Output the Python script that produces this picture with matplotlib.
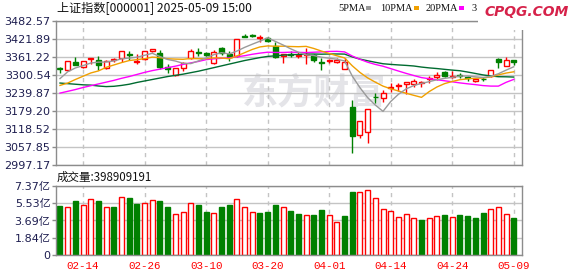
import matplotlib
matplotlib.use("Agg")
import matplotlib.pyplot as plt
from matplotlib.patches import Rectangle
import numpy as np

# ---------------- data ----------------
dates = ["02-11","02-12","02-13","02-14","02-17","02-18","02-19","02-20","02-21","02-24",
         "02-25","02-26","02-27","02-28","03-03","03-04","03-05","03-06","03-07","03-10",
         "03-11","03-12","03-13","03-14","03-17","03-18","03-19","03-20","03-21","03-24",
         "03-25","03-26","03-27","03-28","03-31","04-01","04-02","04-03","04-07","04-08",
         "04-09","04-10","04-11","04-14","04-15","04-16","04-17","04-18","04-21","04-22",
         "04-23","04-24","04-25","04-28","04-29","04-30","05-06","05-07","05-08","05-09"]

opens = [3326,3317,3344,3328,3355,3352,3324,3353,3360,3372,
         3346,3355,3381,3374,3329,3301,3326,3357,3378,3375,
         3341,3391,3373,3364,3434,3436,3425,3425,3400,3366,
         3372,3367,3369,3368,3346,3348,3346,3323,3192,3097,
         3110,3228,3222,3256,3263,3270,3270,3275,3287,3293,
         3310,3294,3301,3293,3282,3289,3297,3355,3333,3352]
highs = [3327,3350,3361,3350,3358,3366,3353,3360,3382,3383,
         3371,3383,3390,3385,3337,3325,3346,3389,3393,3380,
         3384,3395,3382,3423,3438,3440,3436,3430,3414,3371,
         3381,3378,3394,3371,3358,3356,3357,3357,3216,3146,
         3185,3239,3250,3273,3273,3279,3287,3282,3299,3310,
         3316,3316,3307,3299,3290,3294,3317,3358,3363,3353]
lows = [3307,3315,3334,3324,3337,3318,3321,3344,3346,3353,
        3338,3353,3379,3323,3307,3298,3316,3355,3365,3364,
        3338,3369,3349,3362,3428,3428,3414,3413,3357,3343,
        3363,3360,3337,3345,3318,3342,3343,3320,3039,3087,
        3070,3205,3211,3245,3247,3237,3259,3261,3273,3283,
        3294,3290,3290,3281,3278,3282,3294,3326,3331,3335]
closes = [3320,3348,3336,3347,3357,3335,3350,3355,3382,3370,
          3350,3382,3388,3328,3320,3324,3343,3383,3374,3369,
          3380,3377,3361,3423,3431,3434,3428,3417,3363,3371,
          3369,3370,3373,3352,3342,3353,3352,3345,3096,3146,
          3185,3226,3239,3262,3268,3276,3282,3277,3290,3301,
          3299,3299,3299,3291,3287,3287,3317,3344,3352,3346]

ma5 = [3289,3312,3325,3333,3341.6,3344.6,3345,3348.8,3355.8,3358.4,
       3361.4,3367.8,3374.4,3363.6,3353.6,3348.4,3340.6,3339.6,3348.8,3358.6,
       3369.8,3376.6,3372.2,3382,3394.4,3405.2,3415.4,3426.6,3414.6,3402.6,
       3389.6,3378,3369.2,3367,3361.2,3358,3354.4,3348.8,3297.6,3258.4,
       3224.8,3199.6,3178.4,3211.6,3236,3254.2,3265.4,3273,3278.6,3285.2,
       3289.8,3293.2,3297.6,3297.8,3295,3292.6,3296.4,3305.4,3317.6,3329]
ma10 = [3266,3274,3286,3297,3308,3315,3327,3335,3343,3350,
        3353,3356.4,3361.6,3359.7,3356,3354.9,3354.2,3357,3356.2,3356.1,
        3359.1,3358.6,3355.9,3365.4,3376.5,3387.5,3396,3399.4,3398.3,3398.5,
        3397.4,3396.7,3397.9,3390.8,3381.9,3373.8,3366.2,3359,3332.3,3309.8,
        3291.4,3277,3263.6,3254.6,3247.2,3239.5,3232.5,3225.7,3245.1,3260.6,
        3272,3279.3,3285.3,3288.2,3290.1,3291.2,3294.8,3301.5,3307.7,3312]
ma20 = [3240,3246,3252,3259,3265,3271,3277,3283,3290,3296,
        3303,3310,3316,3321,3326,3331,3337,3342,3347,3353,
        3356,3357.5,3358.8,3362.6,3366.3,3371.2,3375.1,3378.2,3377.3,3377.3,
        3378.3,3377.7,3376.9,3378.1,3379.2,3380.7,3381.1,3379.2,3365.3,3354.2,
        3344.4,3336.9,3330.8,3322.7,3314.6,3306.7,3299.4,3292.4,3288.7,3285.2,
        3281.7,3278.2,3274.5,3271.4,3268.7,3265.4,3263.7,3263.6,3276.4,3286.3]
ma30 = [3274,3272,3270,3268,3267,3264,3262,3263,3266,3270,
        3276,3281,3286,3291,3296,3300,3304,3309,3314,3320,
        3326,3332,3338,3344,3350,3355,3360,3364,3366,3368.2,
        3369.8,3370.6,3371.8,3372,3371.5,3372.1,3372.2,3371.8,3362.3,3354.8,
        3349.3,3344.1,3339.2,3337,3335.2,3333.6,3331.6,3328,3325.2,3323,
        3320.3,3317.7,3315.6,3311.2,3306.4,3301.5,3297.9,3295.4,3295.1,3294.2]

# volume in 亿 (1e8)
volumes = [5.24,5.17,5.74,5.38,5.96,5.74,5.09,5.09,6.18,6.10,
           5.45,5.60,5.85,5.74,5.09,4.34,4.63,5.53,5.31,4.55,
           4.52,5.09,5.31,5.96,5.17,4.63,4.44,4.55,5.31,5.17,
           4.66,4.34,4.23,4.23,4.77,4.30,3.54,4.12,6.72,6.68,
           6.94,6.07,4.88,4.73,4.01,4.34,3.90,3.69,3.90,4.12,
           4.23,4.01,4.23,4.12,3.90,4.44,4.88,5.09,4.34,3.99]
vol_up = [0,1,0,1,1,0,1,0,1,0,
          0,1,1,0,0,1,1,1,0,0,
          1,0,0,1,1,1,0,0,0,1,
          0,0,1,0,0,1,1,0,0,1,
          1,1,1,1,1,1,1,0,1,1,
          0,1,0,0,0,0,1,1,1,0]

price_ticks = [2997.17,3057.85,3118.52,3179.20,3239.87,3300.54,3361.22,3421.89,3482.57]
vol_ticks = [0,1.84,3.69,5.53,7.37]
vol_tick_labels = ["0","1.84亿","3.69亿","5.53亿","7.37亿"]
xtick_labels = ["02-14","02-26","03-10","03-20","04-01","04-14","04-24","05-09"]

title_text = "上证指数[000001] 2025-05-09 15:00"
vol_header = "成交量:398909191"
watermark = "东方财富"
legend_items = [("5PMA", "#999999"), ("10PMA", "#f0a000"), ("20PMA", "#ff00ff"), ("3", None)]

# ---------------- style ----------------
RED = "#ff0000"
GREEN = "#008000"
GRID = "#c4c4c4"
SPINE = "#8c8c8c"
LABEL = "#1e1e50"
W, H = 578, 276

def fx(px):
    return px / W

def fy(py):
    return 1 - py / H

fig = plt.figure(figsize=(W / 100, H / 100), dpi=100)
fig.patch.set_facecolor("white")

# watermark behind the axes
fig.text(fx(314), fy(93), watermark, fontsize=26, fontweight="bold",
         color="#e4e4e8", ha="center", va="center",
         family=["Noto Sans CJK SC"], zorder=-5)

ax1 = fig.add_axes([fx(56), fy(165), (522 - 56) / W, (165 - 21.3) / H])
ax2 = fig.add_axes([fx(56), fy(255), (522 - 56) / W, (255 - 186) / H])
ax1.set_facecolor("none")
ax2.set_facecolor("none")

x = np.arange(len(dates))
xt = [dates.index(d) for d in xtick_labels]
bw = 0.65

for ax in (ax1, ax2):
    ax.set_axisbelow(True)
    ax.set_xlim(-0.52, len(dates) + 0.07)
    for s in ax.spines.values():
        s.set_color(SPINE)
        s.set_linewidth(1.0)
    ax.set_xticks(xt)
    ax.xaxis.grid(True, color=GRID, linewidth=1.0, linestyle=(0, (3, 3)))
    ax.yaxis.grid(True, color=GRID, linewidth=1.0, linestyle="-")

# price panel
ax1.set_ylim(price_ticks[0], price_ticks[-1])
ax1.set_yticks(price_ticks)
ax1.set_yticklabels([f"{v:.2f}" for v in price_ticks])

for i in x:
    o, h, l, c = opens[i], highs[i], lows[i], closes[i]
    top, bot = max(o, c), min(o, c)
    hgt = max(top - bot, 0.8)
    if c >= o:
        col = RED
        ax1.bar(i, hgt, bottom=bot, width=bw, facecolor="white", edgecolor=col,
                linewidth=1.0, zorder=2)
    else:
        col = GREEN
        ax1.bar(i, hgt, bottom=bot, width=bw, facecolor=col, edgecolor=col,
                linewidth=1.0, zorder=2)
    ax1.vlines(i, top, h, color=col, lw=1.0, zorder=1.9)
    ax1.vlines(i, l, bot, color=col, lw=1.0, zorder=1.9)

ax1.plot(x, ma30, color="#006b30", lw=1.0, zorder=3)
ax1.plot(x, ma20, color="#ff00ff", lw=1.0, zorder=3)
ax1.plot(x, ma10, color="#f0a000", lw=1.0, zorder=3)
ax1.plot(x, ma5, color="#9a9a9a", lw=1.0, zorder=3)

ax1.tick_params(axis="x", length=0, labelbottom=False)
ax1.tick_params(axis="y", length=3, width=1, color=SPINE, pad=1,
                labelsize=8, labelcolor=LABEL)

# volume panel
ax2.set_ylim(0, vol_ticks[-1])
ax2.set_yticks(vol_ticks)
ax2.set_yticklabels(vol_tick_labels)
for i in x:
    if vol_up[i]:
        ax2.bar(i, volumes[i], width=bw, facecolor="white", edgecolor=RED,
                linewidth=1.0, zorder=2)
    else:
        ax2.bar(i, volumes[i], width=bw, facecolor=GREEN, edgecolor=GREEN,
                linewidth=1.0, zorder=2)
ax2.tick_params(axis="y", length=3, width=1, color=SPINE, pad=1,
                labelsize=8, labelcolor=LABEL)
for lab in ax2.get_yticklabels():
    lab.set_family(["DejaVu Sans", "Noto Sans CJK SC"])
ax2.set_xticklabels(xtick_labels, color=RED, fontsize=7.8,
                    family=["Liberation Mono"])
ax2.tick_params(axis="x", length=0, pad=4)

# header texts
fig.text(fx(57), fy(9), title_text, fontsize=8.7, va="center", ha="left",
         family=["Noto Sans CJK SC", "DejaVu Sans"], color="#111111")
fig.text(fx(57), fy(177), vol_header, fontsize=8.3, va="center", ha="left",
         family=["Noto Sans CJK SC", "DejaVu Sans"], color="#111111")

lx = [338, 380, 425.5, 471.5]
sq = [365.5, 413.5, 459]
for k, (name, col) in enumerate(legend_items):
    fig.text(fx(lx[k]), fy(8.3), name, fontsize=7.5, va="center", ha="left",
             family=["Liberation Serif"], color="#111111")
    if col is not None:
        fig.patches.append(Rectangle((fx(sq[k]), fy(9.5)), 5 / W, 3.2 / H,
                                     transform=fig.transFigure, facecolor=col,
                                     edgecolor="none"))

# logo area
fig.patches.append(Rectangle((fx(478), fy(29.5)), 100 / W, 29.5 / H,
                             transform=fig.transFigure, facecolor="white",
                             edgecolor="none", zorder=5))
fig.text(fx(527), fy(12), "CPQG.COM", fontsize=10, fontweight="bold",
         style="italic", color="#d6224a", ha="center", va="center",
         family=["DejaVu Sans"], zorder=6)

fig.savefig("out.png", dpi=100)
